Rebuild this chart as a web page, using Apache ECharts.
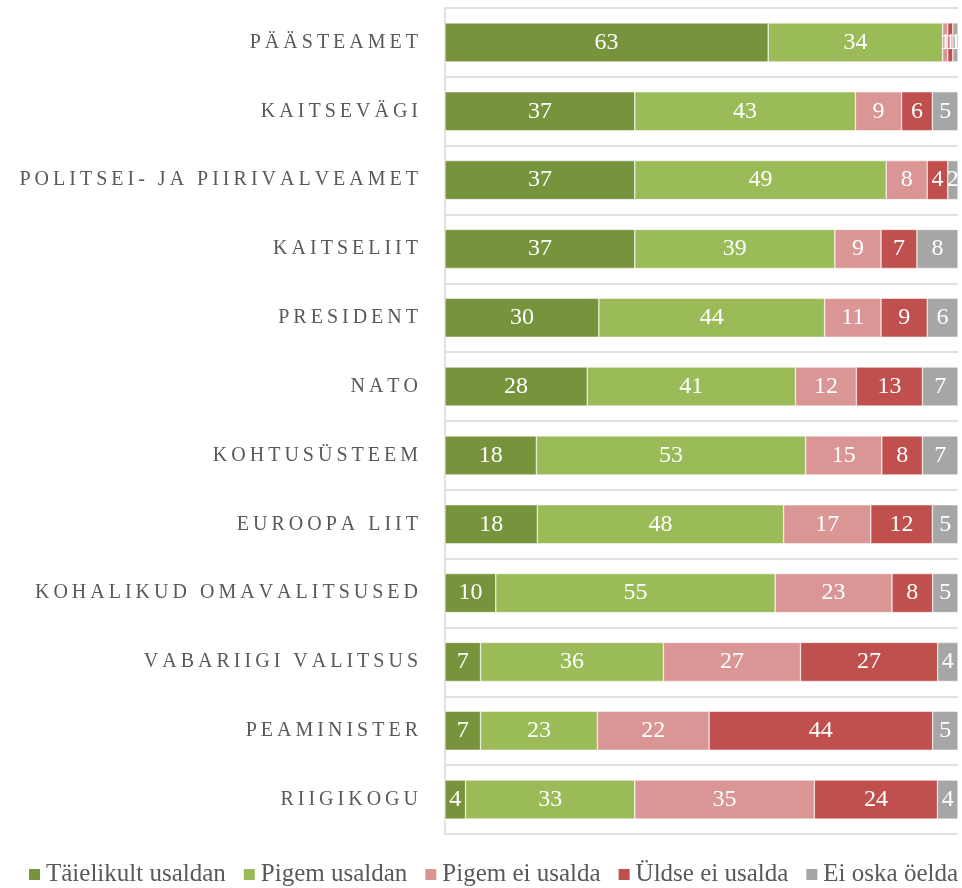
<!DOCTYPE html>
<html>
<head>
<meta charset="utf-8">
<script src="https://cdn.jsdelivr.net/npm/echarts@6/dist/echarts.min.js"></script>
<style>
  html, body { margin: 0; padding: 0; background: #fff; }
  #chart { width: 962px; height: 888px; }
</style>
</head>
<body>
<div id="chart"></div>
<script>
// kategooriad ülevalt alla
var categories = ['PÄÄSTEAMET', 'KAITSEVÄGI', 'POLITSEI- JA PIIRIVALVEAMET', 'KAITSELIIT', 'PRESIDENT', 'NATO',
    'KOHTUSÜSTEEM', 'EUROOPA LIIT', 'KOHALIKUD OMAVALITSUSED', 'VABARIIGI VALITSUS', 'PEAMINISTER', 'RIIGIKOGU'];

var taielikult = [63, 37, 37, 37, 30, 28, 18, 18, 10, 7, 7, 4];
var pigemUsaldan = [34, 43, 49, 39, 44, 41, 53, 48, 55, 36, 23, 33];
var pigemEi = [1, 9, 8, 9, 11, 12, 15, 17, 23, 27, 22, 35];
var uldseEi = [1, 6, 4, 7, 9, 13, 8, 12, 8, 27, 44, 24];
var eiOska = [1, 5, 2, 8, 6, 7, 7, 5, 5, 4, 5, 4];

var seriesNames = ['Täielikult usaldan', 'Pigem usaldan', 'Pigem ei usalda', 'Üldse ei usalda', 'Ei oska öelda'];
var colors = ['#77933C', '#9BBB59', '#D99694', '#C0504D', '#A6A6A6'];
var allData = [taielikult, pigemUsaldan, pigemEi, uldseEi, eiOska];

// 100% tulp: iga rida jagatakse oma summaga
var sums = categories.map(function (c, i) {
    return allData.reduce(function (s, arr) { return s + arr[i]; }, 0);
});

var myChart = echarts.init(document.getElementById('chart'));

var option = {
    animation: false,
    color: colors,
    textStyle: { fontFamily: 'Liberation Serif' },
    grid: { left: 445, right: 4, top: 8, bottom: 54 },
    legend: {
        top: 862,
        left: 27,
        padding: 0,
        itemWidth: 13,
        itemHeight: 13,
        itemGap: 16,
        icon: 'rect',
        textStyle: { fontFamily: 'Liberation Serif', fontSize: 25, color: '#595959' },
        data: seriesNames
    },
    xAxis: { type: 'value', min: 0, max: 100, show: false },
    yAxis: {
        type: 'category',
        inverse: true,
        data: categories,
        axisTick: { show: false },
        axisLine: { lineStyle: { color: '#D9D9D9', width: 1.5 } },
        splitLine: { show: true, lineStyle: { color: '#D9D9D9', width: 1.5 } },
        axisLabel: {
            margin: 27,
            fontFamily: 'Liberation Serif',
            fontSize: 20,
            color: '#595959',
            formatter: function (v) {
                return v.split('').join('\u2009');
            }
        }
    },
    series: allData.map(function (arr, k) {
        return {
            name: seriesNames[k],
            type: 'bar',
            stack: 'total',
            barWidth: 39,
            itemStyle: { color: colors[k], borderColor: '#fff', borderWidth: 0.5 },
            label: {
                show: true,
                position: 'inside',
                color: '#fff',
                fontFamily: 'Liberation Serif',
                fontSize: 24,
                formatter: function (p) { return arr[p.dataIndex]; }
            },
            data: arr.map(function (v, i) { return v / sums[i] * 100; })
        };
    })
};
myChart.setOption(option);
</script>
</body>
</html>
